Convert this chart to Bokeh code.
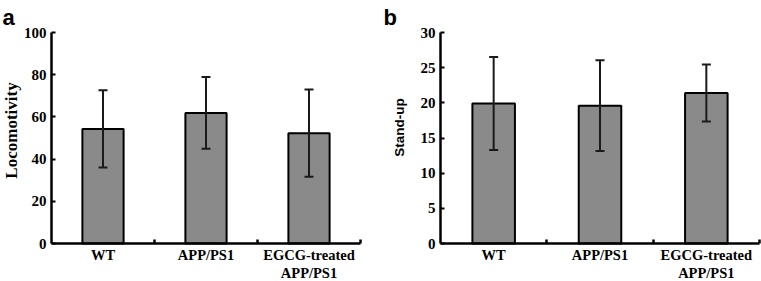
import math
from bokeh.plotting import figure
from bokeh.models import (ColumnDataSource, Range1d, FixedTicker, Whisker, TeeHead, Label)
from bokeh.layouts import row
from bokeh.embed import file_html
from bokeh.resources import INLINE

# ---- data ----
categories = ["WT", "APP/PS1", "EGCG-treated\nAPP/PS1"]
loco_mean = [54.3, 61.9, 52.3]
loco_err = [18.3, 17.0, 20.7]
standup_mean = [19.9, 19.6, 21.4]
standup_err = [6.6, 6.45, 4.05]
loco_ticks = [0, 20, 40, 60, 80, 100]
standup_ticks = [0, 5, 10, 15, 20, 25, 30]

SERIF = "Liberation Serif"
SANS = "Liberation Sans"
BAR_FILL = "#8a8a8a"
ERR_COLOR = "#1a1a1a"

FIG_H = 281
AXIS_TOP_PX = 32      # pixel row of the top of the value axis
AXIS_BOTTOM_PX = 243  # pixel row of the category axis


def panel(letter, ylabel, ylabel_font, ylabel_size, ylabel_dx, ylabel_dy,
          means, errs, yticks, width, axis_left_px, axis_right_px):
    n = len(categories)
    xs = [i + 0.5 for i in range(n)]
    src = ColumnDataSource(dict(
        x=xs, top=means,
        upper=[m + e for m, e in zip(means, errs)],
        lower=[m - e for m, e in zip(means, errs)],
    ))
    # the frame is the whole canvas; axes are placed at x=0 / y=0
    xppu = (axis_right_px - axis_left_px) / n
    y0, y1 = yticks[0], yticks[-1]
    yppu = (AXIS_BOTTOM_PX - AXIS_TOP_PX) / (y1 - y0)
    x_range = Range1d(-axis_left_px / xppu, n + (width - axis_right_px) / xppu)
    y_range = Range1d(y0 - (FIG_H - AXIS_BOTTOM_PX) / yppu, y1 + AXIS_TOP_PX / yppu)

    p = figure(width=width, height=FIG_H, output_backend="svg", toolbar_location=None,
               x_range=x_range, y_range=y_range,
               min_border_left=0, min_border_right=0, min_border_top=0, min_border_bottom=0)
    p.outline_line_color = None
    p.xgrid.visible = False
    p.ygrid.visible = False
    p.background_fill_color = "white"
    p.border_fill_color = "white"

    p.vbar(x="x", top="top", bottom=y0, width=0.4, source=src,
           fill_color=BAR_FILL, line_color="black", line_width=2)
    w = Whisker(base="x", upper="upper", lower="lower", source=src,
                line_color=ERR_COLOR, line_width=2, level="overlay",
                upper_head=TeeHead(size=9, line_width=2, line_color=ERR_COLOR),
                lower_head=TeeHead(size=9, line_width=2, line_color=ERR_COLOR))
    p.add_layout(w)

    # y axis
    ya = p.yaxis[0]
    ya.fixed_location = 0
    ya.bounds = (y0, y1)
    ya.ticker = FixedTicker(ticks=yticks, minor_ticks=[])
    ya.axis_line_width = 2.5
    ya.axis_line_color = "black"
    ya.major_tick_in = 4
    ya.major_tick_out = 0
    ya.major_tick_line_width = 2
    ya.minor_tick_line_color = None
    ya.major_label_text_font = SERIF
    ya.major_label_text_font_style = "bold"
    ya.major_label_text_font_size = "15px"
    ya.major_label_text_color = "black"
    ya.major_label_standoff = 5

    # x axis at y=0: category boundaries as small inward ticks
    xa = p.xaxis[0]
    xa.fixed_location = y0
    xa.bounds = (0, n)
    xa.ticker = FixedTicker(ticks=xs, minor_ticks=[float(i + 1) for i in range(n)])
    xa.major_label_overrides = {x: c for x, c in zip(xs, categories)}
    xa.axis_line_width = 2.5
    xa.axis_line_color = "black"
    xa.major_tick_in = 0
    xa.major_tick_out = 0
    xa.minor_tick_in = 4
    xa.minor_tick_out = 0
    xa.minor_tick_line_width = 2.5
    xa.minor_tick_line_color = "black"
    xa.major_label_text_font = SERIF
    xa.major_label_text_font_style = "bold"
    xa.major_label_text_font_size = "14.5px"
    xa.major_label_text_color = "black"
    xa.major_label_text_line_height = 1.15
    xa.major_label_standoff = 3

    # y axis title (rotated)
    p.add_layout(Label(x=0, y=(y0 + y1) / 2, x_offset=ylabel_dx, y_offset=ylabel_dy,
                       text=ylabel, angle=math.pi / 2, text_align="center", text_baseline="middle",
                       text_font=ylabel_font, text_font_style="bold", text_font_size=ylabel_size,
                       text_color="black"))

    # panel letter
    p.add_layout(Label(x=0, y=y1, x_offset=-axis_left_px + 2, y_offset=15,
                       text=letter, text_align="left", text_baseline="alphabetic",
                       text_font=SANS, text_font_style="bold", text_font_size="22px",
                       text_color="black"))
    return p


pa = panel("a", "Locomotivity", SERIF, "17px", -40, 7.5,
           loco_mean, loco_err, loco_ticks, 381, 51, 360)
pb = panel("b", "Stand-up", SANS, "13.5px", -41.5, 10.5,
           standup_mean, standup_err, standup_ticks, 380, 59, 378)

layout = row(pa, pb, spacing=0)
open("out.html", "w").write(file_html(layout, INLINE))
